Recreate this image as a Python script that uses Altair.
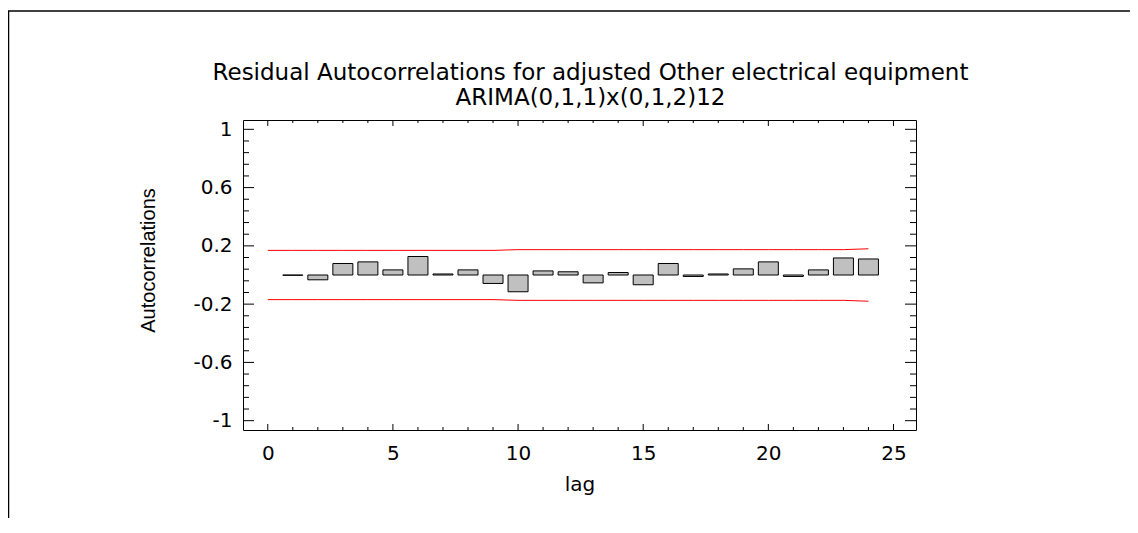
import altair as alt
import pandas as pd

# ---- data ----
lags = [1, 2, 3, 4, 5, 6, 7, 8, 9, 10, 11, 12, 13, 14, 15, 16, 17, 18, 19, 20, 21, 22, 23, 24]
acf = [-0.002, -0.033, 0.079, 0.090, 0.035, 0.127, 0.007, 0.035, -0.058, -0.115, 0.028, 0.022,
       -0.054, 0.017, -0.067, 0.079, -0.010, 0.007, 0.042, 0.090, -0.010, 0.035, 0.117, 0.110]

limit_lags = [0, 1, 2, 3, 4, 5, 6, 7, 8, 9, 10, 11, 12, 13, 14, 15, 16, 17, 18, 19, 20, 21, 22, 23, 24]
upper_limit = [0.169, 0.169, 0.169, 0.169, 0.169, 0.169, 0.169, 0.169, 0.169, 0.169,
               0.174, 0.174, 0.174, 0.174, 0.174, 0.174, 0.174, 0.174, 0.174, 0.174,
               0.174, 0.174, 0.174, 0.174, 0.180]
lower_limit = [-0.169, -0.169, -0.169, -0.169, -0.169, -0.169, -0.169, -0.169, -0.169, -0.169,
               -0.174, -0.174, -0.174, -0.174, -0.174, -0.174, -0.174, -0.174, -0.174, -0.174,
               -0.174, -0.174, -0.174, -0.174, -0.180]

x_major_ticks = [0, 5, 10, 15, 20, 25]
x_minor_ticks = [1, 2, 3, 4, 6, 7, 8, 9, 11, 12, 13, 14, 16, 17, 18, 19, 21, 22, 23, 24]
y_major_ticks = [-1, -0.6, -0.2, 0.2, 0.6, 1]
y_minor_ticks = [-0.92, -0.84, -0.76, -0.68, -0.52, -0.44, -0.36, -0.28, -0.12, -0.04,
                 0.04, 0.12, 0.28, 0.36, 0.44, 0.52, 0.68, 0.76, 0.84, 0.92]

title_lines = ["Residual Autocorrelations for adjusted Other electrical equipment",
               "ARIMA(0,1,1)x(0,1,2)12"]

# ---- layout ----
W, H = 673, 310
FONT = "DejaVu Sans"
YTITLE_FONT = "Liberation Sans"

df_bars = pd.DataFrame({"lag": lags, "acf": acf})
df_lim = pd.concat([
    pd.DataFrame({"lag": limit_lags, "value": upper_limit, "series": "upper"}),
    pd.DataFrame({"lag": limit_lags, "value": lower_limit, "series": "lower"}),
])
df_xmaj = pd.DataFrame({"t": x_major_ticks})
df_xmin = pd.DataFrame({"t": x_minor_ticks})
df_ymaj = pd.DataFrame({"t": y_major_ticks})
df_ymin = pd.DataFrame({"t": y_minor_ticks})

xscale = alt.Scale(domain=[-0.79, 25.7], nice=False, zero=False)
yscale = alt.Scale(domain=[-1.064, 1.064], nice=False, zero=False)

x_axis = alt.Axis(values=x_major_ticks, title="lag", labelPadding=13,
                  labelExpr="'' + datum.value",
                  titleY=54, titleBaseline="middle")
y_axis = alt.Axis(values=y_major_ticks, title="Autocorrelations", labelPadding=11,
                  labelExpr="'' + datum.value",
                  titleX=-95, titleY=140, titleBaseline="middle", titleAngle=-90,
                  titleFont=YTITLE_FONT, titleFontSize=20)

bars = alt.Chart(df_bars).mark_bar(size=20, fill="#C0C0C0", stroke="black",
                                   strokeWidth=1).encode(
    x=alt.X("lag:Q", scale=xscale, axis=x_axis),
    y=alt.Y("acf:Q", scale=yscale, axis=y_axis),
    y2=alt.datum(0),
)

limits = alt.Chart(df_lim).mark_line(color="#FF0000", strokeWidth=1).encode(
    x=alt.X("lag:Q", scale=xscale),
    y=alt.Y("value:Q", scale=yscale),
    detail="series:N",
)

def xticks(df, length):
    b = alt.Chart(df).mark_rule(color="black", strokeWidth=1).encode(
        x=alt.X("t:Q", scale=xscale), y=alt.value(H), y2=alt.value(H - length))
    t = alt.Chart(df).mark_rule(color="black", strokeWidth=1).encode(
        x=alt.X("t:Q", scale=xscale), y=alt.value(0), y2=alt.value(length))
    return b + t

def yticks(df, length):
    l = alt.Chart(df).mark_rule(color="black", strokeWidth=1).encode(
        y=alt.Y("t:Q", scale=yscale), x=alt.value(0), x2=alt.value(length))
    r = alt.Chart(df).mark_rule(color="black", strokeWidth=1).encode(
        y=alt.Y("t:Q", scale=yscale), x=alt.value(W), x2=alt.value(W - length))
    return l + r

# outer frame of the picture (decorative border)
border_left = alt.Chart(df_xmaj.head(1)).mark_rule(color="black", strokeWidth=1.5).encode(
    x=alt.value(-234.5), y=alt.value(-109), y2=alt.value(500))
border_top = alt.Chart(df_xmaj.head(1)).mark_rule(color="black", strokeWidth=1.5).encode(
    x=alt.value(-235), x2=alt.value(1000), y=alt.value(-109))

chart = alt.layer(
    bars, limits,
    xticks(df_xmaj, 6), xticks(df_xmin, 3),
    yticks(df_ymaj, 11), yticks(df_ymin, 6),
    border_left, border_top,
).properties(
    width=W, height=H,
    autosize=alt.AutoSizeParams(type="none"),
    padding={"left": 235, "top": 112, "right": 214, "bottom": 88},
    title=alt.TitleParams(text=title_lines, font=FONT, fontSize=23, fontWeight="normal",
                          color="black", anchor="middle", lineHeight=25, offset=0,
                          baseline="bottom", dy=123, dx=11),
).configure_view(
    stroke="black", strokeWidth=1,
).configure_axis(
    grid=False, domain=False, ticks=False,
    labelFont=FONT, labelFontSize=20, labelColor="black",
    titleFont=FONT, titleFontSize=20, titleColor="black", titleFontWeight="normal",
)

chart.save("out.html", embed_options={"renderer": "svg", "actions": False})
